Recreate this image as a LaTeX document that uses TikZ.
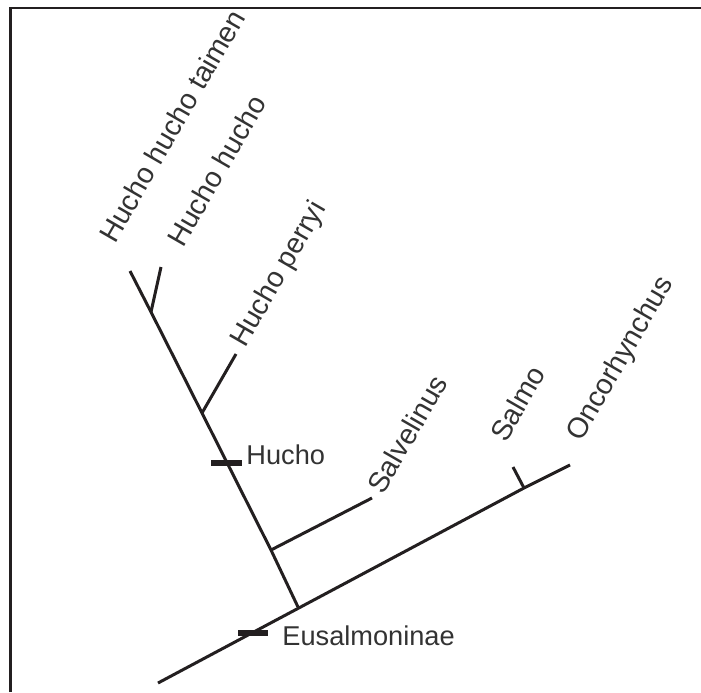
\documentclass[tikz,border=0pt]{standalone}
\usepackage{fontspec}
\setmainfont{Liberation Sans}
\definecolor{ink}{HTML}{231F20}
\definecolor{txt}{HTML}{333333}
\begin{document}
\begin{tikzpicture}[x=0.5pt,y=-0.5pt,
  branch/.style={draw=ink,line width=1.5pt},
  markbar/.style={draw=ink,line width=2.6pt},
  taxon/.style={inner sep=0pt,anchor=base west,rotate=60,text=txt,font=\fontsize{14.3pt}{17pt}\selectfont},
  clade/.style={inner sep=0pt,anchor=base west,text=txt,font=\fontsize{13.6pt}{16pt}\selectfont}]
\useasboundingbox (0,0) rectangle (701,692);
\fill[white] (0,0) rectangle (701,692);
% frame
\draw[ink,line width=1.4pt] (10.5,692) -- (10.5,8) -- (701,8);
% tree coordinates
\coordinate (root) at (158,683);
\coordinate (onc) at (570,465);
\coordinate (jsalmo) at (524,488);
\coordinate (salmo) at (513,467);
\coordinate (jeus) at (298,607);
\coordinate (jsalv) at (271,550);
\coordinate (salv) at (372,498);
\coordinate (jperryi) at (202,413);
\coordinate (perryi) at (236,354);
\coordinate (jhh) at (151,312);
\coordinate (hh) at (161,267);
\coordinate (taimen) at (130,271);
% branches
\draw[branch] (root) -- (jsalmo) -- (onc);
\draw[branch] (jsalmo) -- (salmo);
\draw[branch] (jeus) -- (jsalv) -- (jperryi) -- (jhh) -- (taimen);
\draw[branch] (jsalv) -- (salv);
\draw[branch] (jperryi) -- (perryi);
\draw[branch] (jhh) -- (hh);
% marks
\coordinate (hbarL) at (211,463);
\coordinate (hbarR) at (242,463);
\coordinate (ebarL) at (238,633);
\coordinate (ebarR) at (268,633);
\draw[markbar] (hbarL) -- (hbarR);
\draw[markbar] (ebarL) -- (ebarR);
% labels
\node[clade] (lhucho) at (246,464) {Hucho};
\node[clade] (leus) at (282,645) {Eusalmoninae};
\node[taxon] (ltaimen) at (115,245) {Hucho hucho taimen};
\node[taxon] (lhh) at (183,249) {Hucho hucho};
\node[taxon] (lperryi) at (245,349) {Hucho perryi};
\node[taxon] (lsalv) at (383,496) {Salvelinus};
\node[taxon] (lsalmo) at (506,444) {Salmo};
\node[taxon] (lonc) at (581,443) {Oncorhynchus};
\end{tikzpicture}
\end{document}
